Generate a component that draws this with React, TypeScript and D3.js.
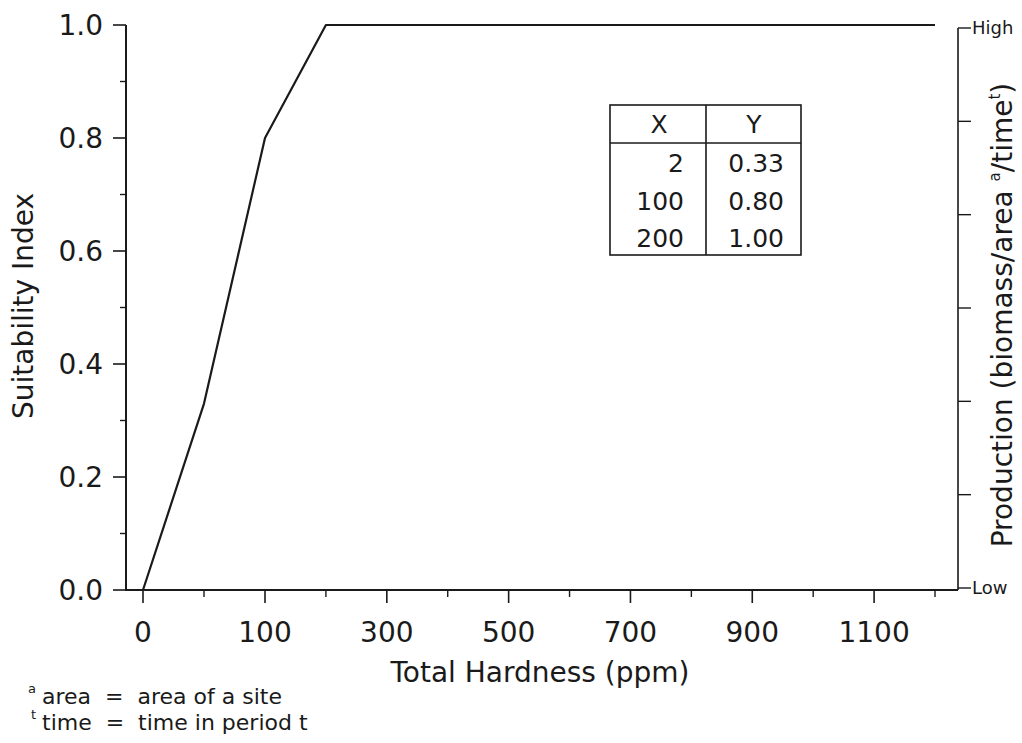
import React from "react";
import * as d3 from "d3";

// Suitability index curve for total hardness
const hardness = [0, 50, 100, 200, 1200];
const suitability = [0, 0.33, 0.8, 1.0, 1.0];

// Axis ticks
const xMajorTicks = [0, 100, 300, 500, 700, 900, 1100];
const xMinorTicks = [50, 200, 400, 600, 800, 1000, 1200];
const yMajorTicks = [0, 0.2, 0.4, 0.6, 0.8, 1.0];
const yMinorTicks = [0.1, 0.3, 0.5, 0.7, 0.9];
const productionLevels = [0, 1, 2, 3, 4, 5, 6];

// Inset table
const tableX = ["2", "100", "200"];
const tableY = ["0.33", "0.80", "1.00"];

const FONT = "'DejaVu Sans', sans-serif";
const INK = "#1a1a1a";

export default function App() {
  const W = 1022;
  const H = 743;

  // Compressed first segment: 0–100 spans the same width as 100–300
  const x = d3.scaleLinear().domain([0, 100, 1200]).range([143, 265, 935]);
  const y = d3.scaleLinear().domain([0, 1]).range([590, 25]);
  const yRight = d3.scaleLinear().domain([0, 6]).range([588, 28]);

  const leftX = 126;
  const rightX = 958;
  const baseY = 590;

  const line = d3
    .line<number>()
    .x((_, i) => x(hardness[i]))
    .y((d) => y(d));
  const path = line(suitability) || "";

  // table geometry
  const tL = 610, tR = 801, tT = 105, tB = 255, tHead = 143, tMid = 706;
  const rowY = d3.scaleLinear().domain([0, 1]).range([172, 209.5]);

  return (
    <svg
      width={W}
      height={H}
      style={{ position: "absolute", left: 0, top: 0, background: "#fff" }}
      fontFamily={FONT}
    >
      <rect width={W} height={H} fill="#fff" />

      {/* frame */}
      <line x1={leftX} y1={25} x2={leftX} y2={baseY + 1} stroke={INK} strokeWidth={2} />
      <line x1={leftX - 1} y1={baseY} x2={rightX} y2={baseY} stroke={INK} strokeWidth={2} />
      <line x1={rightX} y1={28} x2={rightX} y2={baseY} stroke={INK} strokeWidth={1.6} />

      {/* left axis ticks */}
      {yMajorTicks.map((t) => (
        <g key={"ym" + t}>
          <line x1={leftX - 13} x2={leftX} y1={y(t)} y2={y(t)} stroke={INK} strokeWidth={1.6} />
          <text
            x={103}
            y={y(t)}
            dy="0.36em"
            textAnchor="end"
            fontSize={28}
            fill={INK}
          >
            {t.toFixed(1)}
          </text>
        </g>
      ))}
      {yMinorTicks.map((t) => (
        <line key={"yn" + t} x1={leftX - 6} x2={leftX} y1={y(t)} y2={y(t)} stroke={INK} strokeWidth={1.4} />
      ))}

      {/* bottom axis ticks */}
      {xMajorTicks.map((t) => (
        <g key={"xm" + t}>
          <line x1={x(t)} x2={x(t)} y1={baseY} y2={baseY + 13} stroke={INK} strokeWidth={1.6} />
          <text x={x(t)} y={642} textAnchor="middle" fontSize={28} fill={INK}>
            {t}
          </text>
        </g>
      ))}
      {xMinorTicks.map((t) => (
        <line key={"xn" + t} x1={x(t)} x2={x(t)} y1={baseY} y2={baseY + 7} stroke={INK} strokeWidth={1.4} />
      ))}

      {/* right production axis */}
      {productionLevels.map((p) => (
        <line key={"pr" + p} x1={rightX} x2={rightX + 13} y1={yRight(p)} y2={yRight(p)} stroke={INK} strokeWidth={1.4} />
      ))}
      <text x={972} y={yRight(6)} dy="0.36em" fontSize={18} fill={INK}>High</text>
      <text x={972} y={yRight(0)} dy="0.36em" fontSize={18} fill={INK}>Low</text>

      {/* curve */}
      <path d={path} fill="none" stroke={INK} strokeWidth={2.2} strokeLinejoin="round" />

      {/* axis titles */}
      <text
        transform="translate(33,306) rotate(-90)"
        textAnchor="middle"
        fontSize={28}
        fill={INK}
      >
        Suitability Index
      </text>
      <text x={540} y={682} textAnchor="middle" fontSize={28} fill={INK}>
        Total Hardness (ppm)
      </text>
      <text
        transform="translate(1012,315) rotate(-90)"
        textAnchor="middle"
        fontSize={28}
        fill={INK}
      >
        <tspan>Production (biomass/area </tspan>
        <tspan fontSize={15} dy={-12}>a</tspan>
        <tspan dy={12}>/time</tspan>
        <tspan fontSize={15} dy={-12}>t</tspan>
        <tspan dy={12}>)</tspan>
      </text>

      {/* inset table */}
      <rect x={tL} y={tT} width={tR - tL} height={tB - tT} fill="#fff" stroke={INK} strokeWidth={1.6} />
      <line x1={tL} x2={tR} y1={tHead} y2={tHead} stroke={INK} strokeWidth={1.6} />
      <line x1={tMid} x2={tMid} y1={tT} y2={tB} stroke={INK} strokeWidth={1.6} />
      <text x={659} y={133} textAnchor="middle" fontSize={25} fill={INK}>X</text>
      <text x={754} y={133} textAnchor="middle" fontSize={25} fill={INK}>Y</text>
      {tableX.map((v, i) => (
        <text key={"tx" + i} x={684} y={rowY(i)} textAnchor="end" fontSize={25} fill={INK}>
          {v}
        </text>
      ))}
      {tableY.map((v, i) => (
        <text key={"ty" + i} x={784} y={rowY(i)} textAnchor="end" fontSize={25} fill={INK}>
          {v}
        </text>
      ))}

      {/* footnotes */}
      <text x={28} y={693} fontSize={13} fill={INK}>a</text>
      <text x={42} y={704} fontSize={22} fill={INK} style={{ whiteSpace: "pre" }}>
        {"area  =  area of a site"}
      </text>
      <text x={31} y={719} fontSize={13} fill={INK}>t</text>
      <text x={42} y={730} fontSize={22} fill={INK} style={{ whiteSpace: "pre" }}>
        {"time  =  time in period t"}
      </text>
    </svg>
  );
}
